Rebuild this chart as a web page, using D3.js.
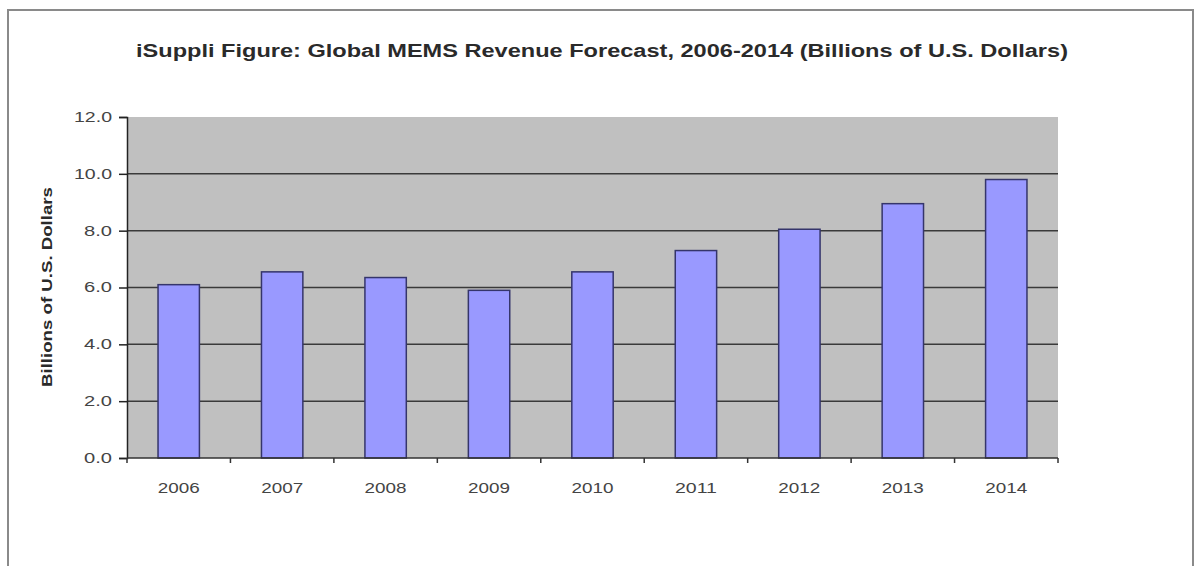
<!DOCTYPE html>
<html>
<head>
<meta charset="utf-8">
<script src="https://cdn.jsdelivr.net/npm/d3@7"></script>
<style>
  body { margin: 0; background: #fff; }
  text { font-family: "Liberation Sans", Arial, sans-serif; }
</style>
</head>
<body>
<div id="chart"></div>
<script>
// data
const years = ["2006", "2007", "2008", "2009", "2010", "2011", "2012", "2013", "2014"];
const revenue = [6.1, 6.55, 6.35, 5.9, 6.55, 7.3, 8.05, 8.95, 9.8];
const yTicks = [0, 2, 4, 6, 8, 10, 12];

const W = 1196, H = 566;
const margin = { top: 117, right: 138, bottom: 108, left: 127 };
const plotW = W - margin.left - margin.right;
const plotH = H - margin.top - margin.bottom;

const svg = d3.select("#chart")
  .append("svg")
  .attr("width", W)
  .attr("height", H);

// outer frame
svg.append("rect")
  .attr("x", 8).attr("y", 10)
  .attr("width", 1185).attr("height", 570)
  .attr("fill", "#fff")
  .attr("stroke", "#8a8a8a")
  .attr("stroke-width", 2);

// the source fonts are wide, so stretch text to the measured widths
svg.append("text")
  .attr("x", 602)
  .attr("y", 57)
  .attr("text-anchor", "middle")
  .attr("textLength", 932)
  .attr("lengthAdjust", "spacingAndGlyphs")
  .style("font-size", "18px")
  .style("font-weight", "bold")
  .style("fill", "#2a2a2a")
  .text("iSuppli Figure: Global MEMS Revenue Forecast, 2006-2014 (Billions of U.S. Dollars)");

const g = svg.append("g")
  .attr("transform", `translate(${margin.left},${margin.top})`);

const x = d3.scaleBand()
  .domain(years)
  .range([0, plotW])
  .paddingInner(0.6)
  .paddingOuter(0.3);

const y = d3.scaleLinear()
  .domain([0, 12])
  .range([plotH, 0]);

// plot background
g.append("rect")
  .attr("width", plotW)
  .attr("height", plotH)
  .attr("fill", "#c0c0c0");

// gridlines
g.selectAll(".grid")
  .data(yTicks.filter(d => d > 0 && d < 12))
  .join("line")
  .attr("x1", 0).attr("x2", plotW)
  .attr("y1", d => y(d)).attr("y2", d => y(d))
  .attr("stroke", "#3a3a3a")
  .attr("stroke-width", 1.5);

// bars
g.selectAll(".bar")
  .data(revenue)
  .join("rect")
  .attr("x", (d, i) => x(years[i]))
  .attr("y", d => y(d))
  .attr("width", x.bandwidth())
  .attr("height", d => plotH - y(d))
  .attr("fill", "#9999ff")
  .attr("stroke", "#35356b")
  .attr("stroke-width", 1.5);

// y axis
const yAxis = g.append("g")
  .call(d3.axisLeft(y).tickValues(yTicks).tickFormat(d3.format(".1f")).tickSize(8).tickSizeOuter(8));
yAxis.select(".domain").attr("stroke", "#222").attr("stroke-width", 1.5);
yAxis.selectAll(".tick line").attr("stroke", "#222").attr("stroke-width", 1.5);
yAxis.selectAll("text")
  .attr("x", -15)
  .attr("textLength", d => d >= 10 ? 38 : 28)
  .attr("lengthAdjust", "spacingAndGlyphs")
  .style("font-size", "14px")
  .style("fill", "#444")
  .style("font-family", "'Liberation Sans', Arial, sans-serif");

// x axis with ticks between categories
const xAxisG = g.append("g").attr("transform", `translate(0,${plotH})`);
xAxisG.append("line")
  .attr("x1", 0).attr("x2", plotW)
  .attr("stroke", "#333").attr("stroke-width", 1.5);
const step = x.step();
xAxisG.selectAll(".xt")
  .data(d3.range(years.length + 1))
  .join("line")
  .attr("x1", d => d * step).attr("x2", d => d * step)
  .attr("y1", 0).attr("y2", 5)
  .attr("stroke", "#333").attr("stroke-width", 1.5);
xAxisG.selectAll(".xl")
  .data(years)
  .join("text")
  .attr("x", d => x(d) + x.bandwidth() / 2)
  .attr("y", 35)
  .attr("text-anchor", "middle")
  .attr("textLength", 42)
  .attr("lengthAdjust", "spacingAndGlyphs")
  .style("font-size", "14px")
  .style("fill", "#444")
  .text(d => d);

// y axis title
svg.append("text")
  .attr("transform", `translate(52,${287}) rotate(-90)`)
  .attr("text-anchor", "middle")
  .attr("textLength", 200)
  .attr("lengthAdjust", "spacingAndGlyphs")
  .style("font-size", "14px")
  .style("font-weight", "bold")
  .style("fill", "#2a2a2a")
  .text("Billions of U.S. Dollars");
</script>
</body>
</html>
